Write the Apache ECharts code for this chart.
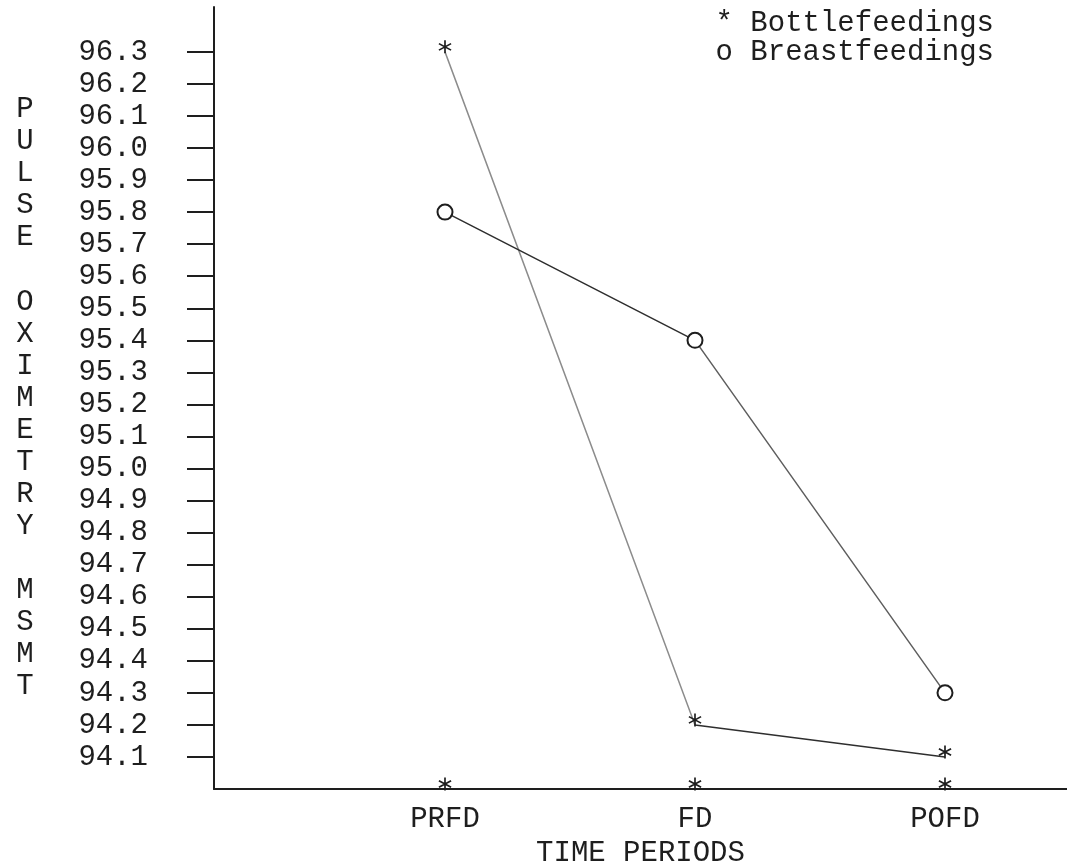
<!DOCTYPE html>
<html>
<head>
<meta charset="utf-8">
<script src="https://cdn.jsdelivr.net/npm/echarts@6/dist/echarts.min.js"></script>
<style>
html,body{margin:0;padding:0;background:#fff;}
#chart{width:1067px;height:864px;}
</style>
</head>
<body>
<div id="chart"></div>
<script>
// ---- data ----
const categories = ['PRFD', 'FD', 'POFD'];
const bottlefeedings = [96.3, 94.2, 94.1];
const breastfeedings = [95.8, 95.4, 94.3];
const baselineStars = [94.0, 94.0, 94.0];
const yTickValues = [94.1, 94.2, 94.3, 94.4, 94.5, 94.6, 94.7, 94.8, 94.9, 95.0, 95.1,
                     95.2, 95.3, 95.4, 95.5, 95.6, 95.7, 95.8, 95.9, 96.0, 96.1, 96.2, 96.3];
const yAxisTitle = 'PULSE OXIMETRY MSMT';
const xAxisTitle = 'TIME PERIODS';
const seriesNames = ['Bottlefeedings', 'Breastfeedings'];
const legendMarks = ['*', 'o'];

// ---- style ----
const FONT = '"Liberation Mono", "DejaVu Sans Mono", monospace';
const FS = 29;
const INK = '#1e1e1e';
const STAR = 'path://M8.8,0 L11.2,0 L11.2,20 L8.8,20 Z M18.06,16.04 L0.74,6.04 L1.94,3.96 L19.26,13.96 Z M19.26,6.04 L1.94,16.04 L0.74,13.96 L18.06,3.96 Z';

const xIdx = categories.map((c, i) => i + 1);
const toPts = arr => arr.map((v, i) => [xIdx[i], v]);
const vertTitle = yAxisTitle.split(' ').map(w => w.split('').join('\n')).join('\n\n');
const twoTone = (a, b) => new echarts.graphic.LinearGradient(0, 0, 1, 0, [
  {offset: 0, color: a}, {offset: 0.5, color: a}, {offset: 0.5, color: b}, {offset: 1, color: b}
]);

const chart = echarts.init(document.getElementById('chart'), null, {renderer: 'canvas'});
chart.setOption({
  animation: false,
  backgroundColor: '#ffffff',
  textStyle: {fontFamily: FONT},
  grid: {left: 214, right: 0, top: 7, bottom: 75, outerBoundsMode: 'none', containLabel: false},
  legend: {
    orient: 'vertical',
    right: 68,
    top: 4,
    itemWidth: 0,
    itemHeight: 0,
    itemGap: 0,
    selectedMode: false,
    data: seriesNames,
    formatter: name => legendMarks[seriesNames.indexOf(name)] + ' ' + name,
    textStyle: {fontFamily: FONT, fontSize: FS, color: INK, lineHeight: 28}
  },
  xAxis: {
    type: 'value',
    min: 0.076,
    max: 3.488,
    name: xAxisTitle,
    nameLocation: 'middle',
    nameGap: 43,
    nameTextStyle: {fontFamily: FONT, fontSize: FS, color: INK},
    axisLine: {show: true, lineStyle: {color: INK, width: 2}},
    axisTick: {show: false},
    splitLine: {show: false},
    axisLabel: {
      customValues: xIdx,
      formatter: v => categories[Math.round(v) - 1] || '',
      margin: 16,
      fontFamily: FONT, fontSize: FS, color: INK
    }
  },
  yAxis: {
    type: 'value',
    min: 94.0,
    max: 96.44,
    name: vertTitle,
    nameLocation: 'middle',
    nameRotate: 0,
    nameGap: 189,
    nameTextStyle: {fontFamily: FONT, fontSize: FS, color: INK, lineHeight: 32.05, align: 'center', verticalAlign: 'middle', padding: [13, 0, 0, 0]},
    axisLine: {show: true, onZero: false, lineStyle: {color: INK, width: 2}},
    axisTick: {show: true, customValues: yTickValues, length: 27, inside: false, lineStyle: {color: INK, width: 2}},
    splitLine: {show: false},
    axisLabel: {
      customValues: yTickValues,
      formatter: v => Number(v).toFixed(1),
      margin: 66,
      fontFamily: FONT, fontSize: FS, color: INK
    }
  },
  series: [
    {
      name: seriesNames[0],
      type: 'line',
      data: toPts(bottlefeedings),
      symbol: STAR,
      symbolSize: 13,
      symbolOffset: [0, -5],
      itemStyle: {color: INK},
      lineStyle: {color: twoTone('#8c8c8c', '#2e2e2e'), width: 1.5},
      z: 3
    },
    {
      name: seriesNames[1],
      type: 'line',
      data: toPts(breastfeedings),
      symbol: 'circle',
      symbolSize: 15,
      itemStyle: {color: '#ffffff', borderColor: INK, borderWidth: 2},
      lineStyle: {color: twoTone('#2e2e2e', '#5e5e5e'), width: 1.5},
      z: 3
    },
    {
      name: 'baseline',
      type: 'line',
      data: toPts(baselineStars),
      symbol: STAR,
      symbolSize: 13,
      symbolOffset: [0, -5],
      itemStyle: {color: INK},
      lineStyle: {width: 0, opacity: 0},
      z: 4
    }
  ]
});
</script>
</body>
</html>
